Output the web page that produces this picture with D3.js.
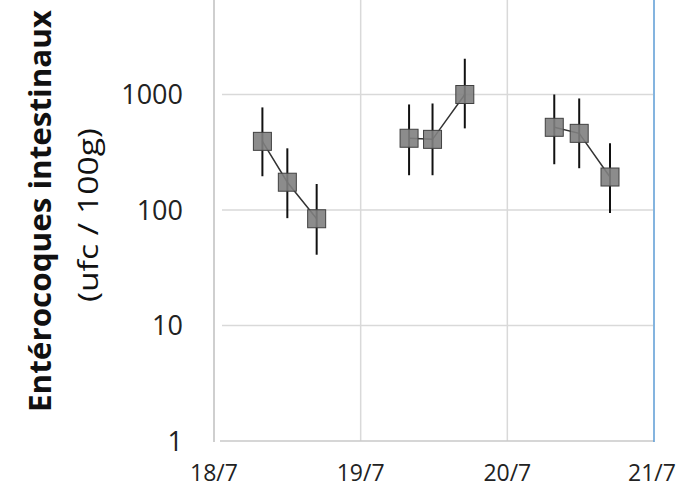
<!DOCTYPE html>
<html><head><meta charset="utf-8">
<script src="https://cdn.jsdelivr.net/npm/d3@7"></script>
<style>html,body{margin:0;padding:0;background:#fff;}svg{display:block;}</style>
</head><body>
<svg id="c" width="679" height="490"></svg>
<script>
const sampleDays = [18.33, 18.5, 18.7, 19.33, 19.49, 19.71, 20.32, 20.49, 20.7];
const sampleGroup = [0, 0, 0, 1, 1, 1, 2, 2, 2];
const meanValues = [393, 174, 84, 418, 409, 1000, 520, 461, 193];
const upperValues = [773, 342, 168, 820, 836, 2040, 1000, 924, 378];
const lowerValues = [196, 85, 41, 200, 200, 509, 249, 230, 94];
const yTicks = [1, 10, 100, 1000];
const xTicks = [18, 19, 20, 21];
const xTickLabels = ["18/7", "19/7", "20/7", "21/7"];
const yTitle1 = "Entérocoques intestinaux";
const yTitle2 = "(ufc / 100g)";

const svg = d3.select("#c");
const x = d3.scaleLinear().domain([18, 21]).range([214, 654]);
const y = d3.scaleLog().domain([1, 10000]).range([441, -21]);
const font = "'Open Sans', sans-serif";

// horizontal gridlines
svg.selectAll("line.hg").data(yTicks.slice(1)).enter().append("line")
  .attr("x1", 222).attr("x2", 653)
  .attr("y1", d => y(d)).attr("y2", d => y(d))
  .attr("stroke", "#d9d9d9").attr("stroke-width", 1.5);
// vertical gridlines
svg.selectAll("line.vg").data([19, 20]).enter().append("line")
  .attr("x1", d => x(d)).attr("x2", d => x(d))
  .attr("y1", 0).attr("y2", 441)
  .attr("stroke", "#d9d9d9").attr("stroke-width", 1.5);
// left axis line
svg.append("line").attr("x1", x(18)).attr("x2", x(18)).attr("y1", 0).attr("y2", 442)
  .attr("stroke", "#bfbfbf").attr("stroke-width", 1.5);
// bottom axis line
svg.append("line").attr("x1", 220).attr("x2", x(21)).attr("y1", y(1)).attr("y2", y(1))
  .attr("stroke", "#c8c8c8").attr("stroke-width", 1.5);
// right border (blue)
svg.append("line").attr("x1", x(21)).attr("x2", x(21)).attr("y1", 0).attr("y2", 442)
  .attr("stroke", "#5b9bd5").attr("stroke-width", 1.5);

// y tick labels
svg.selectAll("text.yt").data(yTicks).enter().append("text")
  .attr("x", 183).attr("y", d => y(d)).attr("dy", "0.36em")
  .attr("text-anchor", "end").attr("font-family", font).attr("font-size", 27)
  .attr("fill", "#222").text(d => d);
// x tick labels
svg.selectAll("text.xt").data(xTicks).enter().append("text")
  .attr("x", (d, i) => i === 3 ? Math.min(x(d), 652) : x(d)).attr("y", 481)
  .attr("text-anchor", "middle").attr("font-family", font).attr("font-size", 23)
  .attr("fill", "#222").text((d, i) => xTickLabels[i]);

// y title
svg.append("text").attr("transform", "translate(40,211) rotate(-90)")
  .attr("text-anchor", "middle").attr("dy", "0.35em")
  .attr("font-family", font).attr("font-weight", "bold").attr("font-size", 30)
  .attr("fill", "#111").text(yTitle1)
  .attr("textLength", 402).attr("lengthAdjust", "spacingAndGlyphs");
svg.append("text").attr("transform", "translate(88,215) rotate(-90)")
  .attr("text-anchor", "middle").attr("dy", "0.35em")
  .attr("font-family", font).attr("font-size", 28)
  .attr("fill", "#111").text(yTitle2)
  .attr("textLength", 174).attr("lengthAdjust", "spacingAndGlyphs");

const pts = sampleDays.map((d, i) => ({d, g: sampleGroup[i], v: meanValues[i], hi: upperValues[i], lo: lowerValues[i]}));
const groups = d3.groups(pts, p => p.g);
const line = d3.line().x(p => x(p.d)).y(p => y(p.v));
svg.selectAll("path.ln").data(groups).enter().append("path")
  .attr("d", g => line(g[1])).attr("fill", "none")
  .attr("stroke", "#333").attr("stroke-width", 1.5);
// error bars
svg.selectAll("line.eb").data(pts).enter().append("line")
  .attr("x1", p => x(p.d)).attr("x2", p => x(p.d))
  .attr("y1", p => y(p.hi)).attr("y2", p => y(p.lo))
  .attr("stroke", "#111").attr("stroke-width", 2);
// markers
const s = 18;
svg.selectAll("rect.mk").data(pts).enter().append("rect")
  .attr("x", p => x(p.d) - s / 2).attr("y", p => y(p.v) - s / 2)
  .attr("width", s).attr("height", s)
  .attr("fill", "#7f7f7f").attr("fill-opacity", 0.9)
  .attr("stroke", "#404040").attr("stroke-width", 1);
</script>
</body></html>
